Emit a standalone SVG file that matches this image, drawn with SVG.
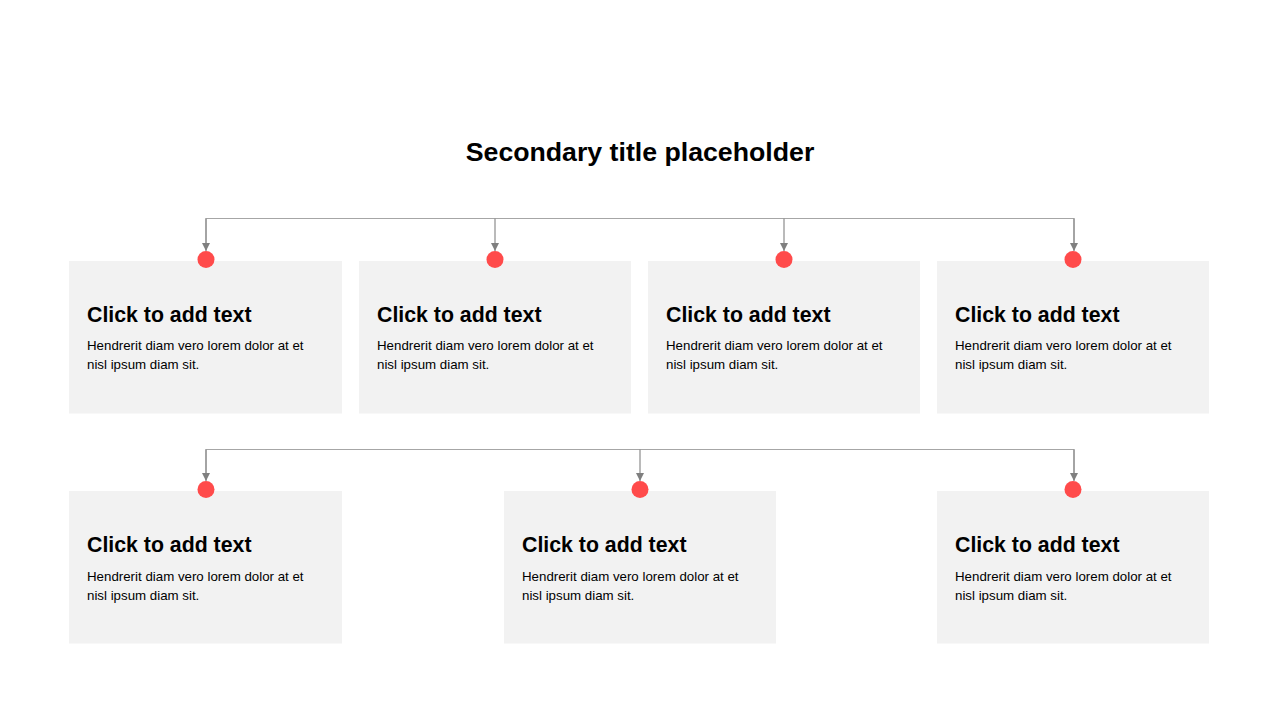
<svg xmlns="http://www.w3.org/2000/svg" width="1280" height="720" viewBox="0 0 1280 720">
<defs>
<marker id="arr" viewBox="0 0 10 10" refX="10" refY="5" markerWidth="8" markerHeight="8" markerUnits="userSpaceOnUse" orient="auto">
<path d="M0,0 L10,5 L0,10 Z" fill="#7f7f7f"/>
</marker>
<style>
.box{fill:#f2f2f2}
.dot{fill:#ff4b4b}
.h{font-family:"Liberation Sans",Arial,sans-serif;font-weight:bold;font-size:21.3px;fill:#000}
.b{font-family:"Liberation Sans",Arial,sans-serif;font-size:13.3px;fill:#000}
.ln{fill:none;stroke:#a6a6a6;stroke-width:1.2}
.dn{fill:none;stroke:#8c8c8c;stroke-width:1.2;marker-end:url(#arr)}
</style>
</defs>
<rect width="1280" height="720" fill="#fff"/>
<text x="640" y="161" text-anchor="middle" font-family="Liberation Sans,Arial,sans-serif" font-weight="bold" font-size="26.7" fill="#000">Secondary title placeholder</text>
<g id="connectors">
<path class="ln" d="M206,250 V218.5 H1074 V250"/>
<path class="dn" d="M206,218.5 V251"/>
<path class="dn" d="M495,218.5 V251"/>
<path class="dn" d="M784,218.5 V251"/>
<path class="dn" d="M1074,218.5 V251"/>
<path class="ln" d="M206,480 V449.5 H1074 V480"/>
<path class="dn" d="M206,449.5 V481"/>
<path class="dn" d="M640,449.5 V481"/>
<path class="dn" d="M1074,449.5 V481"/>
</g>
<g id="n1"><rect class="box" x="69" y="261" width="273" height="152.5"/><circle class="dot" cx="206" cy="259.5" r="8.5"/><text class="h" x="87" y="322">Click to add text</text><text class="b" x="87" y="350">Hendrerit diam vero lorem dolor at et</text><text class="b" x="87" y="369">nisl ipsum diam sit.</text></g>
<g id="n2"><rect class="box" x="359" y="261" width="272" height="152.5"/><circle class="dot" cx="495" cy="259.5" r="8.5"/><text class="h" x="377" y="322">Click to add text</text><text class="b" x="377" y="350">Hendrerit diam vero lorem dolor at et</text><text class="b" x="377" y="369">nisl ipsum diam sit.</text></g>
<g id="n3"><rect class="box" x="648" y="261" width="272" height="152.5"/><circle class="dot" cx="784" cy="259.5" r="8.5"/><text class="h" x="666" y="322">Click to add text</text><text class="b" x="666" y="350">Hendrerit diam vero lorem dolor at et</text><text class="b" x="666" y="369">nisl ipsum diam sit.</text></g>
<g id="n4"><rect class="box" x="937" y="261" width="272" height="152.5"/><circle class="dot" cx="1073" cy="259.5" r="8.5"/><text class="h" x="955" y="322">Click to add text</text><text class="b" x="955" y="350">Hendrerit diam vero lorem dolor at et</text><text class="b" x="955" y="369">nisl ipsum diam sit.</text></g>
<g id="n5"><rect class="box" x="69" y="491" width="273" height="152.5"/><circle class="dot" cx="206" cy="489.5" r="8.5"/><text class="h" x="87" y="552">Click to add text</text><text class="b" x="87" y="581">Hendrerit diam vero lorem dolor at et</text><text class="b" x="87" y="600">nisl ipsum diam sit.</text></g>
<g id="n6"><rect class="box" x="504" y="491" width="272" height="152.5"/><circle class="dot" cx="640" cy="489.5" r="8.5"/><text class="h" x="522" y="552">Click to add text</text><text class="b" x="522" y="581">Hendrerit diam vero lorem dolor at et</text><text class="b" x="522" y="600">nisl ipsum diam sit.</text></g>
<g id="n7"><rect class="box" x="937" y="491" width="272" height="152.5"/><circle class="dot" cx="1073" cy="489.5" r="8.5"/><text class="h" x="955" y="552">Click to add text</text><text class="b" x="955" y="581">Hendrerit diam vero lorem dolor at et</text><text class="b" x="955" y="600">nisl ipsum diam sit.</text></g>
</svg>
